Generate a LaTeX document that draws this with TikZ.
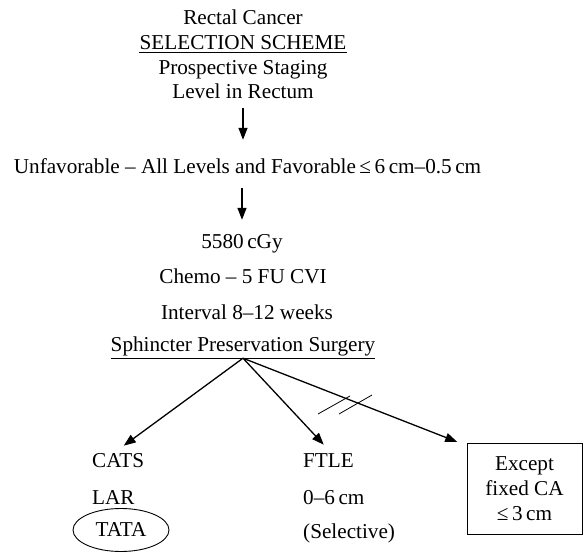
\documentclass[tikz,border=0pt]{standalone}
\usepackage{fontspec}
\setmainfont{Liberation Serif}
\usetikzlibrary{arrows.meta,shapes.geometric}
\begin{document}
\begin{tikzpicture}[x=1pt,y=-1pt,
  txt/.style={font=\fontsize{21.2}{25}\selectfont, inner xsep=0pt, inner ysep=2pt, text height=15pt, text depth=4pt, anchor=base},
  lefttxt/.style={txt, anchor=base west},
  arr/.style={line width=1.3pt, -{Triangle[length=12pt,width=9pt]}},
  uline/.style={line width=0.9pt},
  slash/.style={line width=0.8pt},
  boxnode/.style={draw, line width=0.9pt, minimum width=115pt, minimum height=91pt, align=center, inner sep=0pt, font=\fontsize{21.2}{25}\selectfont},
  ovalnode/.style={ellipse, draw, line width=0.9pt, minimum width=96pt, minimum height=43pt, inner sep=0pt, font=\fontsize{21.2}{25}\selectfont}]
\useasboundingbox (0,0) rectangle (584,553);
% header
\node[txt] (rc) at (243,25) {Rectal Cancer};
\node[txt] (ss) at (243,50) {SELECTION SCHEME};
\node[txt] (ps) at (243,75) {Prospective Staging};
\node[txt] (lr) at (243,99) {Level in Rectum};
\draw[uline] ([yshift=-2.5pt]ss.base west) -- ([yshift=-2.5pt]ss.base east);
% middle
\node[txt] (unf) at (247.5,174) {Unfavorable – All Levels and Favorable\,≤\,6\,cm–0.5\,cm};
\node[txt] (dose) at (242,249) {5580\,cGy};
\node[txt] (chemo) at (243,284) {Chemo – 5 FU CVI};
\node[txt] (intv) at (247,320) {Interval 8–12 weeks};
\node[txt] (sps) at (243,352) {Sphincter Preservation Surgery};
\draw[uline] (sps.south west) -- (sps.south east);
% arrows
\draw[arr, shorten <=3pt, shorten >=17pt] (lr.south) -- (lr.south |- unf.north);
\draw[arr, shorten <=8pt, shorten >=12pt] (unf.south -| dose.north) -- (dose.north);
% bottom columns
\node[lefttxt] (cats) at (92,467) {CATS};
\node[lefttxt] (lar) at (92,504) {LAR};
\node[ovalnode] (tata) at (121,530) {TATA};
\node[lefttxt] (ftle) at (303,467) {FTLE};
\node[lefttxt] (range) at (303,504) {0–6\,cm};
\node[lefttxt] (sel) at (303,538) {(Selective)};
\node[boxnode] (exc) at (524.5,488.5) {Except\\fixed CA\\≤\,3\,cm};
% branches
\draw[arr, shorten >=7pt] (sps.south) -- (cats.north);
\draw[arr, shorten >=7pt] (sps.south) -- (ftle.north);
\draw[arr, shorten >=10pt] (sps.south) -- ([yshift=-3pt]exc.north west);
% slashes
\draw[slash] (318,414) -- (350,396);
\draw[slash] (339,414) -- (372,395);
\end{tikzpicture}
\end{document}
